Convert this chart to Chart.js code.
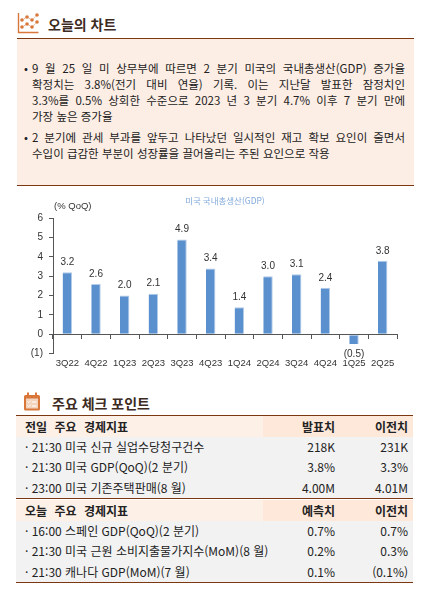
<!DOCTYPE html>
<html lang="ko">
<head>
<meta charset="utf-8">
<title>오늘의 차트</title>
<script src="https://cdn.jsdelivr.net/npm/chart.js@4.4.1/dist/chart.umd.min.js"></script>
<style>
  html, body { margin: 0; padding: 0; background: #fff; }
  body { width: 433px; height: 606px; position: relative; overflow: hidden;
         font-family: "Noto Sans CJK KR", "Noto Sans", sans-serif; color: #222; }
  .abs { position: absolute; }
  .sec-title { font-size: 14px; font-weight: bold; color: #3d2b1f; line-height: 18px; white-space: nowrap; }
  .rule { position: absolute; left: 17px; width: 397px; height: 0; border-top: 1.5px solid #7d3711; }
  .box { position: absolute; left: 17px; top: 39px; width: 397px; height: 146px; background: #fdeee5; }
  .bullet { position: absolute; font-size: 11.5px; line-height: 16px; }
  .ln { position: absolute; left: 32px; width: 373px; font-size: 11.5px; line-height: 16px; white-space: nowrap; }
  .j { text-align: justify; text-align-last: justify; }
  #chartWrap { position: absolute; left: 0; top: 187px; width: 433px; height: 188px; }
  .row { position: absolute; left: 16px; width: 397px; height: 20px; font-size: 12px; line-height: 20px; }
  .row span { position: absolute; white-space: nowrap; }
  .hd { font-size: 12px; font-weight: bold; word-spacing: 4px; }
</style>
</head>
<body>
<script>
// 오늘의 차트 - 미국 국내총생산(GDP), % QoQ
const quarters = ['3Q22', '4Q22', '1Q23', '2Q23', '3Q23', '4Q23', '1Q24', '2Q24', '3Q24', '4Q24', '1Q25', '2Q25'];
const gdpGrowth = [3.2, 2.6, 2.0, 2.1, 4.9, 3.4, 1.4, 3.0, 3.1, 2.4, -0.5, 3.8];

// 주요 체크 포인트
const prevDayHeader = ['전일 주요 경제지표', '발표치', '이전치'];
const prevDayItems = ['21:30 미국 신규 실업수당청구건수', '21:30 미국 GDP(QoQ)(2 분기)', '23:00 미국 기존주택판매(8 월)'];
const prevDayActual = ['218K', '3.8%', '4.00M'];
const prevDayPrior = ['231K', '3.3%', '4.01M'];

const todayHeader = ['오늘 주요 경제지표', '예측치', '이전치'];
const todayItems = ['16:00 스페인 GDP(QoQ)(2 분기)', '21:30 미국 근원 소비지출물가지수(MoM)(8 월)', '21:30 캐나다 GDP(MoM)(7 월)'];
const todayForecast = ['0.7%', '0.2%', '0.1%'];
const todayPrior = ['0.7%', '0.3%', '(0.1%)'];
</script>

<!-- 헤더: 오늘의 차트 -->
<svg class="abs" style="left:17px;top:12px" width="22" height="22" viewBox="0 0 22 22">
  <path d="M1.5 1 V20.5 H21.5" fill="none" stroke="#d9773a" stroke-width="1.4"/>
  <polyline points="5,8 10,5 15,8 20,3" fill="none" stroke="#e5a070" stroke-width="1" stroke-dasharray="1.5 1"/>
  <polyline points="5,15 10,12 15,15 20,10" fill="none" stroke="#e5a070" stroke-width="1" stroke-dasharray="1.5 1"/>
  <g fill="#d9773a">
    <circle cx="5" cy="8" r="1.8"/><circle cx="10" cy="5" r="1.8"/><circle cx="15" cy="8" r="1.8"/><circle cx="20" cy="3" r="1.8"/>
    <circle cx="5" cy="15" r="1.8"/><circle cx="10" cy="12" r="1.8"/><circle cx="15" cy="15" r="1.8"/><circle cx="20" cy="10" r="1.8"/>
  </g>
</svg>
<div class="abs sec-title" style="left:48px;top:15px">오늘의 차트</div>
<div class="rule" style="top:38px"></div>

<div class="box"></div>
<div class="rule" style="top:185px"></div>

<div class="bullet" style="left:24px;top:60px">•</div>
<div class="ln j" style="top:60px">9 월 25 일 미 상무부에 따르면 2 분기 미국의 국내총생산(GDP) 증가율</div>
<div class="ln j" style="top:76px">확정치는 3.8%(전기 대비 연율) 기록. 이는 지난달 발표한 잠정치인</div>
<div class="ln j" style="top:92px">3.3%를 0.5% 상회한 수준으로 2023 년 3 분기 4.7% 이후 7 분기 만에</div>
<div class="ln" style="top:108px">가장 높은 증가율</div>

<div class="bullet" style="left:24px;top:129px">•</div>
<div class="ln j" style="top:129px">2 분기에 관세 부과를 앞두고 나타났던 일시적인 재고 확보 요인이 줄면서</div>
<div class="ln" style="top:145px">수입이 급감한 부분이 성장률을 끌어올리는 주된 요인으로 작용</div>

<div id="chartWrap"><canvas id="gdpChart"></canvas></div>

<!-- 헤더: 주요 체크 포인트 -->
<svg class="abs" style="left:23px;top:392px" width="18" height="19" viewBox="0 0 18 19">
  <rect x="1" y="3" width="16" height="15.5" rx="1.5" fill="#d9773a"/>
  <rect x="3" y="6.5" width="12" height="10" fill="#f4d3bd"/>
  <rect x="4" y="0.5" width="2" height="4.5" fill="#d9773a"/>
  <rect x="12" y="0.5" width="2" height="4.5" fill="#d9773a"/>
  <path d="M4.5 9.5 l1.2 1.2 l2 -2 M4.5 13.5 l1.2 1.2 l2 -2" fill="none" stroke="#fff" stroke-width="1"/>
  <path d="M9 10 H13.5 M9 14 H13.5" stroke="#fff" stroke-width="1"/>
</svg>
<div class="abs sec-title" style="left:52px;top:394px">주요 체크 포인트</div>
<div class="rule" style="left:16px;top:415px"></div>

<div id="tableArea"></div>

<script>
// 표 만들기
const tableArea = document.getElementById('tableArea');

function addHeader(top, cells) {
  const row = document.createElement('div');
  row.className = 'row hd';
  row.style.top = top + 'px';
  row.style.height = '21px';
  row.style.lineHeight = '21px';
  row.style.background = 'linear-gradient(to right, #fdf0e6 0, #fdf0e6 247px, #fde8da 247px)';
  row.innerHTML = `<span style="left:9px">${cells[0]}</span>` +
    `<span style="right:78px">${cells[1]}</span>` +
    `<span style="right:5px">${cells[2]}</span>`;
  tableArea.appendChild(row);
}

function addRows(top, items, col1, col2) {
  items.forEach((item, i) => {
    const row = document.createElement('div');
    row.className = 'row';
    row.style.top = (top + i * 20.3) + 'px';
    row.style.height = '20.3px';
    row.style.background = '#f2f2f2';
    row.innerHTML = `<span style="left:9px">· ${item}</span>` +
      `<span style="right:78px">${col1[i]}</span>` +
      `<span style="right:5px">${col2[i]}</span>`;
    tableArea.appendChild(row);
  });
}

function addRule(top) {
  const r = document.createElement('div');
  r.className = 'rule';
  r.style.left = '16px';
  r.style.top = top + 'px';
  tableArea.appendChild(r);
}

addHeader(416, prevDayHeader);
addRows(437, prevDayItems, prevDayActual, prevDayPrior);
addRule(498);
addHeader(499.5, todayHeader);
addRows(521, todayItems, todayForecast, todayPrior);
addRule(582);

// 차트
const fmtNum = v => v < 0 ? '(' + Math.abs(v).toFixed(1) + ')' : v.toFixed(1);

const extraText = {
  id: 'extraText',
  afterDatasetsDraw(chart) {
    const ctx = chart.ctx;
    const area = chart.chartArea;
    ctx.save();
    ctx.fillStyle = '#333';
    ctx.font = '9.5px "Liberation Sans", Arial, sans-serif';
    ctx.textAlign = 'left';
    ctx.textBaseline = 'middle';
    ctx.fillText('(% QoQ)', area.left + 1, area.top - 12);

    ctx.font = '10px "Liberation Sans", Arial, sans-serif';
    ctx.textAlign = 'center';
    const meta = chart.getDatasetMeta(0);
    meta.data.forEach((bar, i) => {
      const v = gdpGrowth[i];
      const y = v >= 0 ? bar.y - 10 : bar.y + 10;
      ctx.fillText(fmtNum(v), bar.x, y);
    });
    ctx.restore();
  }
};

const ctx = document.getElementById('gdpChart').getContext('2d');
const gdpChart = new Chart(ctx, {
  type: 'bar',
  data: {
    labels: quarters,
    datasets: [{
      label: '미국 국내총생산(GDP)',
      data: gdpGrowth,
      backgroundColor: '#5a90cd',
      borderColor: '#b3cbe9',
      borderWidth: { top: 1, right: 1, left: 0, bottom: 0 },
      borderSkipped: false,
      categoryPercentage: 1,
      barPercentage: 0.33,
      xAxisID: 'x'
    }]
  },
  options: {
    responsive: true,
    maintainAspectRatio: false,
    animation: false,
    layout: { padding: { left: 0, right: 36, top: 0, bottom: 2 } },
    plugins: {
      legend: { display: false },
      tooltip: { enabled: false },
      title: {
        display: true,
        text: '미국 국내총생산(GDP)',
        fullSize: false,
        color: '#82a9da',
        font: { family: '"Noto Sans CJK KR", sans-serif', size: 8.5, weight: 'normal', lineHeight: 1.2 },
        padding: { top: 9, bottom: 12 }
      }
    },
    scales: {
      x: {
        type: 'category',
        position: 'bottom',
        offset: true,
        grid: { display: false, drawTicks: false, offset: true },
        border: { display: false },
        ticks: {
          color: '#333',
          padding: 4,
          maxRotation: 0,
          autoSkip: false,
          font: { family: '"Liberation Sans", Arial, sans-serif', size: 9.5 }
        }
      },
      x2: {
        type: 'category',
        axis: 'x',
        position: { y: 0 },
        offset: true,
        grid: { offset: true, drawOnChartArea: false, drawTicks: true, tickLength: 4, color: '#555' },
        border: { display: true, color: '#555', width: 1 },
        ticks: { display: false }
      },
      y: {
        min: -1,
        max: 6,
        ticks: {
          stepSize: 1,
          color: '#333',
          padding: 6,
          font: { family: '"Liberation Sans", Arial, sans-serif', size: 10 },
          callback: v => v < 0 ? '(' + (-v) + ')' : v
        },
        grid: { drawOnChartArea: false, tickLength: 4, color: '#555' },
        border: { color: '#555', width: 1 },
        afterFit: scale => { scale.width = 53; }
      }
    }
  },
  plugins: [extraText]
});
</script>
</body>
</html>
